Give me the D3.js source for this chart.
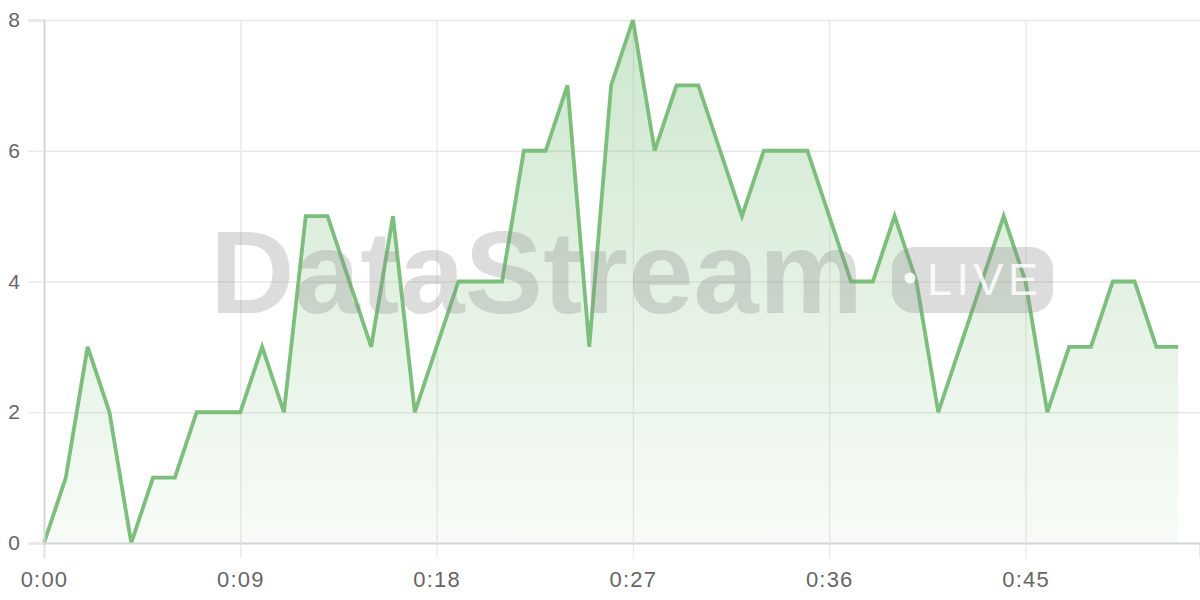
<!DOCTYPE html>
<html>
<head>
<meta charset="utf-8">
<script src="https://cdn.jsdelivr.net/npm/d3@7"></script>
<style>
  html, body { margin: 0; padding: 0; background: #fff; }
  svg { display: block; }
  .tick text { font-family: "Liberation Sans", Arial, sans-serif; fill: #666; }
</style>
</head>
<body>
<svg id="chart" width="1200" height="600"></svg>
<script>
// seconds since start
const seconds = d3.range(0, 53);
const values = [0, 1, 3, 2, 0, 1, 1, 2, 2, 2, 3, 2, 5, 5, 4, 3, 5, 2, 3, 4,
                4, 4, 6, 6, 7, 3, 7, 8, 6, 7, 7, 6, 5, 6, 6, 6, 5, 4, 4, 5,
                4, 2, 3, 4, 5, 4, 2, 3, 3, 4, 4, 3, 3];
const xTicks = [0, 9, 18, 27, 36, 45];
const yTicks = [0, 2, 4, 6, 8];
const watermark = "DataStream";
const badge = "LIVE";

const data = seconds.map((s, i) => ({ s, v: values[i] }));

const margin = { top: 20, right: 0, bottom: 57, left: 44 };
const width = 1200, height = 600;
const innerWidth = width - margin.left - margin.right;
const innerHeight = height - margin.top - margin.bottom;

const svg = d3.select('#chart');
const g = svg.append('g').attr('transform', `translate(${margin.left},${margin.top})`);

const xScale = d3.scaleLinear().domain([0, 53]).range([0, innerWidth]);
const yScale = d3.scaleLinear().domain([0, 8]).range([innerHeight, 0]);

const fmt = s => `${Math.floor(s / 60)}:${String(s % 60).padStart(2, '0')}`;

// gradient for area fill
const grad = svg.append('defs').append('linearGradient')
  .attr('id', 'fillGrad').attr('x1', 0).attr('y1', 0).attr('x2', 0).attr('y2', 1);
grad.append('stop').attr('offset', '0%').attr('stop-color', '#7cbf7c').attr('stop-opacity', 0.38);
grad.append('stop').attr('offset', '100%').attr('stop-color', '#7cbf7c').attr('stop-opacity', 0.06);

// grid lines
g.append('g')
  .attr('transform', `translate(0, ${innerHeight})`)
  .call(d3.axisBottom(xScale).tickValues(xTicks).tickSize(-innerHeight).tickFormat(() => ''))
  .call(a => a.select('.domain').remove())
  .selectAll('line').attr('stroke', '#e8e8e8').attr('stroke-width', 1.3);

g.append('g')
  .call(d3.axisLeft(yScale).tickValues(yTicks).tickSize(-innerWidth).tickFormat(() => ''))
  .call(a => a.select('.domain').remove())
  .selectAll('line').attr('stroke', '#e8e8e8').attr('stroke-width', 1.3);

// area + line
const area = d3.area()
  .x(d => xScale(d.s))
  .y0(yScale(0))
  .y1(d => yScale(d.v));

const line = d3.line()
  .x(d => xScale(d.s))
  .y(d => yScale(d.v));

g.append('path')
  .datum(data)
  .attr('fill', 'url(#fillGrad)')
  .attr('d', area);

// watermark
const wm = svg.append('g').attr('pointer-events', 'none');
wm.append('text')
  .attr('x', 210)
  .attr('y', 313)
  .attr('font-family', '"Liberation Sans", Arial, sans-serif')
  .attr('font-weight', 'bold')
  .attr('font-size', 117)
  .attr('letter-spacing', 0.3)
  .attr('fill', '#8c8c8c')
  .attr('fill-opacity', 0.3)
  .text(watermark);
wm.append('rect')
  .attr('x', 892).attr('y', 247).attr('width', 161).attr('height', 66)
  .attr('rx', 22)
  .attr('fill', '#8c8c8c').attr('fill-opacity', 0.3);
wm.append('circle')
  .attr('cx', 910).attr('cy', 278).attr('r', 5.5)
  .attr('fill', '#fff').attr('fill-opacity', 0.85);
wm.append('text')
  .attr('x', 927).attr('y', 295)
  .attr('font-family', '"Liberation Sans", Arial, sans-serif')
  .attr('font-size', 45)
  .attr('letter-spacing', 4.5)
  .attr('fill', '#fff').attr('fill-opacity', 0.85)
  .text(badge);

g.append('path')
  .datum(data)
  .attr('fill', 'none')
  .attr('stroke', '#7cbf7c')
  .attr('stroke-width', 3.8)
  .attr('stroke-linejoin', 'miter')
  .attr('d', line);

// axes
const xAxis = g.append('g')
  .attr('transform', `translate(0, ${innerHeight})`)
  .call(d3.axisBottom(xScale).tickValues(xTicks).tickSize(15).tickPadding(13).tickFormat(fmt));
xAxis.select('.domain').attr('stroke', '#d6d6d6').attr('stroke-width', 2);
xAxis.selectAll('.tick line').attr('stroke', '#e8e8e8').attr('stroke-width', 1.3);
xAxis.selectAll('.tick text').attr('font-size', 22).attr('letter-spacing', 1.2).attr('dy', '0.71em');

const yAxis = g.append('g')
  .call(d3.axisLeft(yScale).tickValues(yTicks).tickSize(16).tickPadding(8));
yAxis.select('.domain').attr('stroke', '#d6d6d6').attr('stroke-width', 2);
yAxis.selectAll('.tick line').attr('stroke', '#e8e8e8').attr('stroke-width', 1.3);
yAxis.selectAll('.tick text').attr('font-size', 21);
</script>
</body>
</html>
